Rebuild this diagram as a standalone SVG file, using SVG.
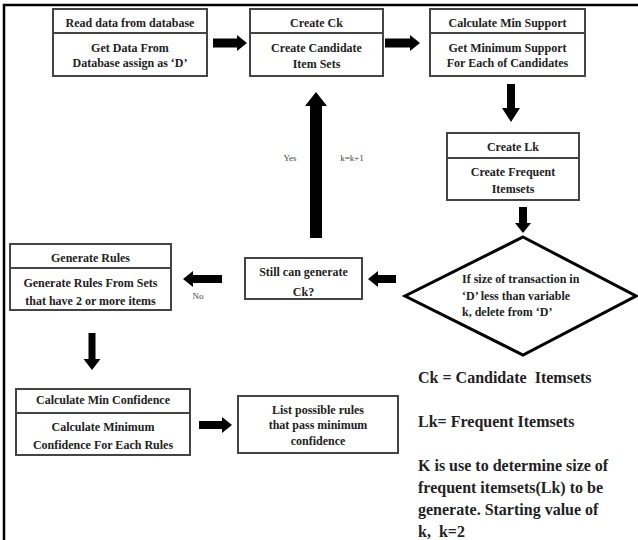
<svg xmlns="http://www.w3.org/2000/svg" width="638" height="540" viewBox="0 0 638 540">
<style>
.box{fill:#fff;stroke:#444;stroke-width:2}
.div{stroke:#444;stroke-width:2}
.t{font-family:"Liberation Serif","Times New Roman",serif;font-weight:bold;font-size:12px;fill:#222;text-anchor:middle}
.tl{font-family:"Liberation Serif","Times New Roman",serif;font-weight:bold;font-size:12px;fill:#222}
.lg{font-family:"Liberation Serif","Times New Roman",serif;font-weight:bold;font-size:16px;fill:#222}
.sm{font-family:"Liberation Serif","Times New Roman",serif;font-size:9px;fill:#444}
.arr{fill:#000}
</style>
<rect width="638" height="540" fill="#fff"/>
<path d="M4 540 V5 H638" fill="none" stroke="#000" stroke-width="2.5"/>

<g id="read-data">
<rect class="box" x="53" y="9" width="154" height="67"/>
<line class="div" x1="53" y1="33" x2="207" y2="33"/>
<text class="t" x="130" y="27">Read data from database</text>
<text class="t" x="130" y="52">Get Data From</text>
<text class="t" x="130" y="67">Database assign as ‘D’</text>
</g>

<g id="create-ck">
<rect class="box" x="250" y="9" width="133" height="67"/>
<line class="div" x1="250" y1="33" x2="383" y2="33"/>
<text class="t" x="316.5" y="27">Create Ck</text>
<text class="t" x="316.5" y="52">Create Candidate</text>
<text class="t" x="316.5" y="68">Item Sets</text>
</g>

<g id="calc-min-support">
<rect class="box" x="430" y="9" width="155" height="67"/>
<line class="div" x1="430" y1="33" x2="585" y2="33"/>
<text class="t" x="507.5" y="27">Calculate Min Support</text>
<text class="t" x="507.5" y="52">Get Minimum Support</text>
<text class="t" x="507.5" y="67">For Each of Candidates</text>
</g>

<g id="create-lk">
<rect class="box" x="447" y="133" width="132" height="67"/>
<line class="div" x1="447" y1="158" x2="579" y2="158"/>
<text class="t" x="513" y="151">Create Lk</text>
<text class="t" x="513" y="176">Create Frequent</text>
<text class="t" x="513" y="193">Itemsets</text>
</g>

<g id="decision">
<polygon points="523,237 636,296 523,355 405,296" fill="#fff" stroke="#000" stroke-width="3"/>
<text class="tl" x="462" y="283">If size of transaction in</text>
<text class="tl" x="462" y="300">‘D’ less than variable</text>
<text class="tl" x="462" y="316">k, delete from ‘D’</text>
</g>

<g id="still-generate">
<rect class="box" x="245" y="258" width="117" height="41"/>
<text class="t" x="303.5" y="276">Still can generate</text>
<text class="t" x="303.5" y="296">Ck?</text>
</g>

<g id="generate-rules">
<rect class="box" x="10" y="244" width="161" height="66"/>
<line class="div" x1="10" y1="268" x2="171" y2="268"/>
<text class="t" x="90.5" y="262">Generate Rules</text>
<text class="t" x="90.5" y="287">Generate Rules From Sets</text>
<text class="t" x="90.5" y="305">that have 2 or more items</text>
</g>

<g id="calc-min-confidence">
<rect class="box" x="16" y="389" width="174" height="66"/>
<line class="div" x1="16" y1="413" x2="190" y2="413"/>
<text class="t" x="103" y="404">Calculate Min Confidence</text>
<text class="t" x="103" y="431">Calculate Minimum</text>
<text class="t" x="103" y="449">Confidence For Each Rules</text>
</g>

<g id="list-rules">
<rect class="box" x="238" y="396" width="160" height="57"/>
<text class="t" x="318" y="414">List possible rules</text>
<text class="t" x="318" y="429">that pass minimum</text>
<text class="t" x="318" y="445">confidence</text>
</g>

<g id="connectors">
<path class="arr" d="M213 38.5 H237 V35 L247 43 L237 51 V47.5 H213 Z"/>
<path class="arr" d="M385 38.5 H410 V35 L420 43 L410 51 V47.5 H385 Z"/>
<path class="arr" d="M507 84 V108 H502 L511 122 L520 108 H515 V84 Z"/>
<path class="arr" d="M519 207 V223 H515 L523 233 L531 223 H527 V207 Z"/>
<path class="arr" d="M396 275 H378 V271 L368 279 L378 287 V283 H396 Z"/>
<path class="arr" d="M222 275 H193 V271 L183 279 L193 287 V283 H222 Z"/>
<path class="arr" d="M88.5 333 V359 H83.5 L92 370 L100.5 359 H95.5 V333 Z"/>
<path class="arr" d="M199 421 H222 V417 L232 425 L222 433 V429 H199 Z"/>
<path class="arr" d="M310 238 V106 H305 L316 92 L327 106 H322 V238 Z"/>
<text class="sm" x="290" y="161" text-anchor="middle">Yes</text>
<text class="sm" x="352" y="161" text-anchor="middle">k=k+1</text>
<text class="sm" x="198" y="299" text-anchor="middle" font-size="7">No</text>
</g>

<g id="legend">
<text class="lg" x="418" y="383" xml:space="preserve">Ck = Candidate  Itemsets</text>
<text class="lg" x="418" y="427">Lk= Frequent Itemsets</text>
<text class="lg" x="418" y="471">K is use to determine size of</text>
<text class="lg" x="418" y="493">frequent itemsets(Lk) to be</text>
<text class="lg" x="418" y="515">generate. Starting value of</text>
<text class="lg" x="418" y="537" xml:space="preserve">k,  k=2</text>
</g>
</svg>
